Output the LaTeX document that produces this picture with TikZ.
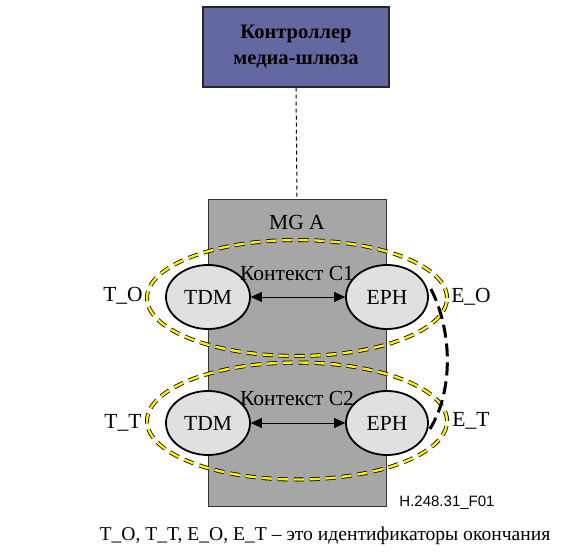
\documentclass[tikz,border=0pt]{standalone}
\usepackage{fontspec}
\setmainfont{Liberation Serif}
\setsansfont{Liberation Sans}
\usetikzlibrary{shapes.geometric,arrows.meta}
\definecolor{ctrlblue}{RGB}{100,104,160}
\definecolor{mggray}{RGB}{166,166,166}
\definecolor{termgray}{RGB}{224,224,224}
\definecolor{ctxyellow}{RGB}{255,240,0}
\tikzset{
  ctrlbox/.style={draw=black!85, line width=1.2pt, fill=ctrlblue, minimum width=186pt, minimum height=80pt, inner sep=0pt, align=center, font=\fontsize{20.5}{26}\selectfont\bfseries},
  mgbox/.style={draw=black!80, line width=1pt, fill=mggray, minimum width=178pt, minimum height=306pt, inner sep=0pt},
  term/.style={ellipse, draw=black, line width=1.8pt, fill=termgray, minimum width=84pt, minimum height=64pt, inner sep=0pt, font=\fontsize{21.5}{24}\selectfont},
  ctxouter/.style={ellipse, draw=black, line width=4pt, dash pattern=on 10pt off 6pt, minimum width=300pt, minimum height=116pt, inner sep=0pt},
  ctxinner/.style={ellipse, draw=ctxyellow, line width=2.4pt, dash pattern=on 10pt off 6pt, minimum width=300pt, minimum height=116pt, inner sep=0pt},
  lbl/.style={inner sep=0pt, font=\fontsize{21.5}{24}\selectfont},
  link/.style={{Triangle[length=11pt,width=10pt]}-{Triangle[length=11pt,width=10pt]}, line width=0.7pt},
}
\begin{document}
\begin{tikzpicture}[x=1pt,y=-1pt]
\useasboundingbox (0,0) rectangle (562,553);
\node[ctrlbox] (ctrl) at (296,47) {Контроллер\\медиа-шлюза};
\node[mgbox] (mg) at (297,353) {};
\draw[line width=1pt, dash pattern=on 4pt off 3pt] (ctrl.south) -- (mg.north);
\node[lbl] (mglbl) at (297,222) {MG A};
% context 1
\node[ctxouter] (c1o) at (297,298) {};
\node[ctxinner] (c1) at (297,298) {};
\node[term] (tdm1) at (208,297) {TDM};
\node[term, minimum width=82pt] (eph1) at (387,297) {EPH};
\draw[link] (tdm1) -- (eph1);
\node[lbl] (ctx1lbl) at (297,273) {Контекст C1};
% context 2
\node[ctxouter, minimum height=117pt] (c2o) at (297,421) {};
\node[ctxinner, minimum height=117pt] (c2) at (297,421) {};
\node[term] (tdm2) at (208,423) {TDM};
\node[term, minimum width=82pt] (eph2) at (387,423) {EPH};
\draw[link] (tdm2) -- (eph2);
\node[lbl] (ctx2lbl) at (297,398) {Контекст C2};
% termination labels
\node[lbl] (to) at (123,296) {T\_O};
\node[lbl] (eo) at (471,297) {E\_O};
\node[lbl] (tt) at (123,423) {T\_T};
\node[lbl] (et) at (471,421) {E\_T};
% physical link
\draw[line width=3pt, dash pattern=on 13pt off 6pt] (eph1.east) ++(2,-8) .. controls (452,330) and (454,390) .. ([shift={(1,6)}]eph2.east);
% figure id and caption
\node[inner sep=0pt, font=\sffamily\fontsize{15}{18}\selectfont] (fig) at (447,503) {H.248.31\_F01};
\node[lbl, font=\fontsize{19.6}{24}\selectfont] (cap) at (325,536) {T\_O, T\_T, E\_O, E\_T – это идентификаторы окончания};
\end{tikzpicture}
\end{document}
